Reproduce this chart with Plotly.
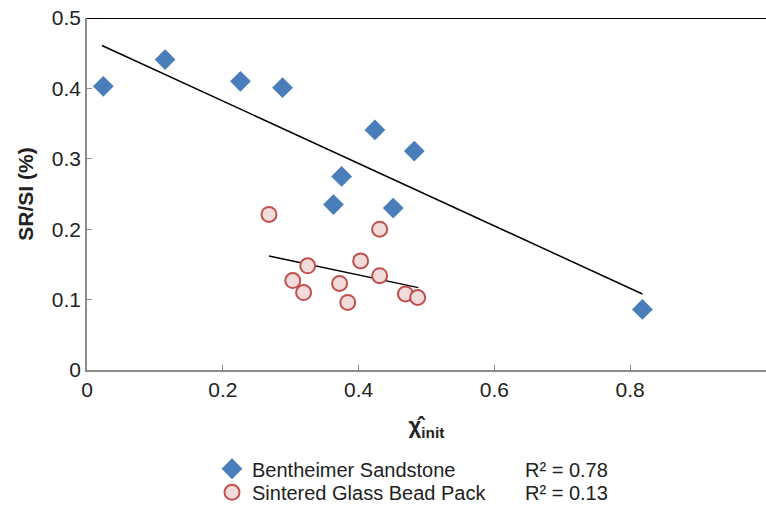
import plotly.graph_objects as go

# Data
bent_x = [0.024, 0.115, 0.226, 0.288, 0.424, 0.482, 0.375, 0.363, 0.451, 0.818]
bent_y = [0.403, 0.441, 0.410, 0.401, 0.341, 0.311, 0.275, 0.235, 0.230, 0.086]
glass_x = [0.268, 0.431, 0.403, 0.325, 0.303, 0.319, 0.372, 0.431, 0.384, 0.469, 0.487]
glass_y = [0.221, 0.200, 0.155, 0.148, 0.127, 0.110, 0.123, 0.134, 0.096, 0.108, 0.103]
bent_trend_x = [0.022, 0.818]
bent_trend_y = [0.461, 0.108]
glass_trend_x = [0.268, 0.488]
glass_trend_y = [0.162, 0.117]
x_ticks = [0, 0.2, 0.4, 0.6, 0.8, 1]
x_labels = ["0", "0.2", "0.4", "0.6", "0.8", "1"]
y_ticks = [0, 0.1, 0.2, 0.3, 0.4, 0.5]
y_labels = ["0", "0.1", "0.2", "0.3", "0.4", "0.5"]
series_names = ["Bentheimer Sandstone", "Sintered Glass Bead Pack"]
r2_labels = ["R² = 0.78", "R² = 0.13"]

FONT = "Liberation Sans, Arial, sans-serif"
W, H = 766, 512
L, R, T, B = 87, 0, 18, 134
PW = W - L - R
PH = H - T - B


def px_x(p):
    return (p - L) / PW


def px_y(p):
    return (H - B - p) / PH


fig = go.Figure()
fig.add_trace(go.Scatter(x=bent_trend_x, y=bent_trend_y, mode="lines",
                         line=dict(color="black", width=1.5), showlegend=False, hoverinfo="skip"))
fig.add_trace(go.Scatter(x=glass_trend_x, y=glass_trend_y, mode="lines",
                         line=dict(color="black", width=1.5), showlegend=False, hoverinfo="skip"))
fig.add_trace(go.Scatter(x=bent_x, y=bent_y, mode="markers", name=series_names[0],
                         legend="legend",
                         marker=dict(symbol="diamond", size=16, color="#4A7EBB",
                                     line=dict(width=0))))
fig.add_trace(go.Scatter(x=glass_x, y=glass_y, mode="markers", name=series_names[1],
                         legend="legend2",
                         marker=dict(symbol="circle", size=15, color="#F2DCDB",
                                     line=dict(width=2, color="#C0504D"))))

fig.add_shape(type="line", xref="paper", yref="y", x0=0, x1=1, y0=0.5, y1=0.5,
              line=dict(color="black", width=2))

for i, t in enumerate(r2_labels):
    fig.add_annotation(text=t, xref="paper", yref="paper",
                       x=px_x(523), y=px_y(480 + 24 * i),
                       xanchor="left", yanchor="middle", showarrow=False,
                       font=dict(size=20, color="#222", family=FONT))

leg_common = dict(xanchor="left", yanchor="middle", font=dict(size=20, color="#222", family=FONT),
                  bgcolor="rgba(0,0,0,0)")

fig.update_layout(
    width=W, height=H, autosize=False,
    margin=dict(l=L, r=R, t=T, b=B),
    paper_bgcolor="white", plot_bgcolor="white",
    font=dict(family=FONT, size=21, color="#222"),
    xaxis=dict(range=[0, 1], tickvals=x_ticks, ticktext=x_labels, automargin=False,
               showgrid=False, zeroline=False, showline=True,
               linecolor="#8C8C8C", linewidth=1.5,
               ticks="inside", ticklen=5, tickcolor="#8C8C8C",
               tickfont=dict(size=21, color="#222"),
               title=dict(text="<b>χ̂<sub>init</sub></b>", font=dict(size=22), standoff=18)),
    yaxis=dict(range=[0, 0.5], tickvals=y_ticks, ticktext=y_labels, automargin=False,
               showgrid=False, zeroline=False, showline=True,
               linecolor="#8C8C8C", linewidth=1.5,
               ticks="inside", ticklen=5, tickcolor="#8C8C8C",
               tickfont=dict(size=21, color="#222"),
               title=dict(text="<b>SR/SI (%)</b>", font=dict(size=21), standoff=12)),
    legend=dict(x=px_x(212), y=px_y(479), **leg_common),
    legend2=dict(x=px_x(212), y=px_y(503), **leg_common),
)

fig.write_html("out.html", config={"responsive": False, "displayModeBar": False},
               post_script="document.body.style.margin='0';")
